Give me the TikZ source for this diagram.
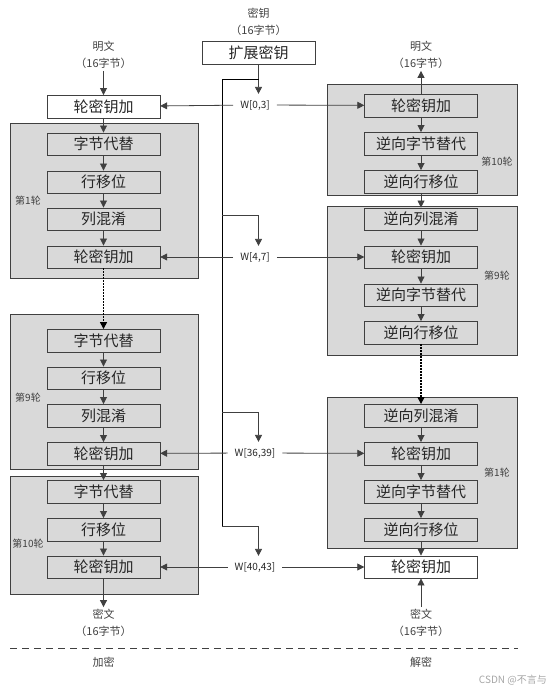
\documentclass[tikz,border=0pt]{standalone}
\usepackage{fontspec}
\setmainfont{Noto Sans CJK SC}
\usetikzlibrary{arrows.meta}
\definecolor{StageGray}{HTML}{D9D9D9}
\definecolor{LineDark}{HTML}{404040}
\definecolor{TextDark}{HTML}{262626}
\definecolor{MarkGray}{HTML}{A6A6A6}

\begin{document}
\begin{tikzpicture}[x=1pt,y=-1pt,
    stagebox/.style={draw=LineDark,fill=StageGray,text=TextDark,minimum width=113pt,minimum height=22.5pt,inner sep=0pt,font=\fontsize{15}{15}\selectfont},
    keybox/.style={stagebox,fill=white},
    roundbg/.style={draw=LineDark,fill=StageGray,line width=0.8pt},
    lbl/.style={text=LineDark,align=center,inner sep=2pt,font=\fontsize{11}{17}\selectfont},
    roundlbl/.style={text=LineDark,inner sep=0pt,font=\fontsize{10}{10}\selectfont},
    wlbl/.style={text=TextDark,inner xsep=7pt,inner ysep=6pt,font=\fontsize{10}{10}\selectfont},
    flow/.style={draw=LineDark,line width=0.8pt,-{Triangle[length=7pt,width=7pt]}},
    skip/.style={flow,draw=black,dash pattern=on 2pt off 1pt,line width=1.4pt}]
  \useasboundingbox (0,0) rectangle (550,692);

  % gray round frames
  \draw[roundbg] (10,123) rectangle (198,278);
  \draw[roundbg] (10,314) rectangle (198,469);
  \draw[roundbg] (10,476) rectangle (198,594);
  \draw[roundbg] (327,84) rectangle (517,195);
  \draw[roundbg] (327,206) rectangle (517,355);
  \draw[roundbg] (327,397) rectangle (517,548);

  % encryption side
  \node[lbl] (plainEnc) at (103.5,55) {明文\\（16字节）};
  \node[keybox] (encAdd0) at (103.5,106.5) {轮密钥加};
  \node[stagebox] (encSub1) at (103.5,144) {字节代替};
  \node[stagebox] (encShift1) at (103.5,182) {行移位};
  \node[stagebox] (encMix1) at (103.5,219) {列混淆};
  \node[stagebox] (encAdd1) at (103.5,257) {轮密钥加};
  \node[stagebox] (encSub9) at (103.5,340.5) {字节代替};
  \node[stagebox] (encShift9) at (103.5,378) {行移位};
  \node[stagebox] (encMix9) at (103.5,415.5) {列混淆};
  \node[stagebox] (encAdd9) at (103.5,453.5) {轮密钥加};
  \node[stagebox] (encSub10) at (103.5,491.5) {字节代替};
  \node[stagebox] (encShift10) at (103.5,529.5) {行移位};
  \node[stagebox] (encAdd10) at (103.5,567) {轮密钥加};
  \node[lbl] (cipherEnc) at (103.5,623) {密文\\（16字节）};
  \node[roundlbl] (encR1) at (28,201) {第1轮};
  \node[roundlbl] (encR9) at (28,398) {第9轮};
  \node[roundlbl] (encR10) at (28,544) {第10轮};

  \draw[flow] (plainEnc) -- (encAdd0);
  \draw[flow] (encAdd0) -- (encSub1);
  \draw[flow] (encSub1) -- (encShift1);
  \draw[flow] (encShift1) -- (encMix1);
  \draw[flow] (encMix1) -- (encAdd1);
  \draw[skip] (encAdd1) -- (encSub9);
  \draw[flow] (encSub9) -- (encShift9);
  \draw[flow] (encShift9) -- (encMix9);
  \draw[flow] (encMix9) -- (encAdd9);
  \draw[flow] (encAdd9) -- (encSub10);
  \draw[flow] (encSub10) -- (encShift10);
  \draw[flow] (encShift10) -- (encAdd10);
  \draw[flow] (encAdd10) -- (cipherEnc);

  % decryption side
  \node[lbl] (plainDec) at (421,55) {明文\\（16字节）};
  \node[stagebox] (decAdd10) at (421,105.5) {轮密钥加};
  \node[stagebox] (decInvSub10) at (421,143.5) {逆向字节替代};
  \node[stagebox] (decInvShift10) at (421,181.5) {逆向行移位};
  \node[stagebox] (decInvMix9) at (421,219) {逆向列混淆};
  \node[stagebox] (decAdd9) at (421,257) {轮密钥加};
  \node[stagebox] (decInvSub9) at (421,295) {逆向字节替代};
  \node[stagebox] (decInvShift9) at (421,332.5) {逆向行移位};
  \node[stagebox] (decInvMix1) at (421,415.5) {逆向列混淆};
  \node[stagebox] (decAdd1) at (421,453.5) {轮密钥加};
  \node[stagebox] (decInvSub1) at (421,491.5) {逆向字节替代};
  \node[stagebox] (decInvShift1) at (421,529.5) {逆向行移位};
  \node[keybox] (decAdd0) at (421,567) {轮密钥加};
  \node[lbl] (cipherDec) at (421,623) {密文\\（16字节）};
  \node[roundlbl] (decR10) at (497,162) {第10轮};
  \node[roundlbl] (decR9) at (497,276) {第9轮};
  \node[roundlbl] (decR1) at (497,473) {第1轮};

  \draw[flow] (decAdd10) -- (plainDec);
  \draw[flow] (decAdd10) -- (decInvSub10);
  \draw[flow] (decInvSub10) -- (decInvShift10);
  \draw[flow] (decInvShift10) -- (decInvMix9);
  \draw[flow] (decInvMix9) -- (decAdd9);
  \draw[flow] (decAdd9) -- (decInvSub9);
  \draw[flow] (decInvSub9) -- (decInvShift9);
  \draw[skip] (decInvShift9) -- (decInvMix1);
  \draw[flow] (decInvMix1) -- (decAdd1);
  \draw[flow] (decAdd1) -- (decInvSub1);
  \draw[flow] (decInvSub1) -- (decInvShift1);
  \draw[flow] (decInvShift1) -- (decAdd0);
  \draw[flow] (cipherDec) -- (decAdd0);

  % key schedule
  \node[lbl] (keyIn) at (258.5,22) {密钥\\（16字节）};
  \node[keybox,minimum height=23pt] (keyExp) at (258.5,52.5) {扩展密钥};
  \node[wlbl] (w0) at (255,105) {W[0,3]};
  \node[wlbl] (w4) at (255,257) {W[4,7]};
  \node[wlbl] (w36) at (255,453) {W[36,39]};
  \node[wlbl] (w40) at (255,567) {W[40,43]};
  \coordinate (keyTap) at (258.5,79);
  \coordinate (trunkTop) at (222,79);
  \coordinate (trunkBot) at (222,526);
  \coordinate (tap4) at (222,215);
  \coordinate (tap36) at (222,412);

  \draw[flow] (keyExp.south) -- (keyTap) -- (w0.north -| keyTap);
  \draw[line width=0.8pt] (keyTap) -- (trunkTop) -- (trunkBot);
  \draw[flow] (tap4) -| (w4.north -| keyTap);
  \draw[flow] (tap36) -| (w36.north -| keyTap);
  \draw[flow] (trunkBot) -| (w40.north -| keyTap);

  \draw[flow] (w0) -- (encAdd0);
  \draw[flow] (w0) -- (decAdd10);
  \draw[flow] (w4) -- (encAdd1);
  \draw[flow] (w4) -- (decAdd9);
  \draw[flow] (w36) -- (encAdd9);
  \draw[flow] (w36) -- (decAdd1);
  \draw[flow] (w40) -- (encAdd10);
  \draw[flow] (w40) -- (decAdd0);

  % bottom captions
  \draw[LineDark,line width=0.9pt,dash pattern=on 7pt off 5pt] (10,648) -- (518,648);
  \node[lbl] (encCap) at (103.5,662) {加密};
  \node[lbl] (decCap) at (421,662) {解密};
  \node[text=MarkGray,anchor=east,inner sep=0pt,font=\fontsize{10}{10}\selectfont] (mark) at (547,680) {CSDN @不言与};
\end{tikzpicture}
\end{document}
